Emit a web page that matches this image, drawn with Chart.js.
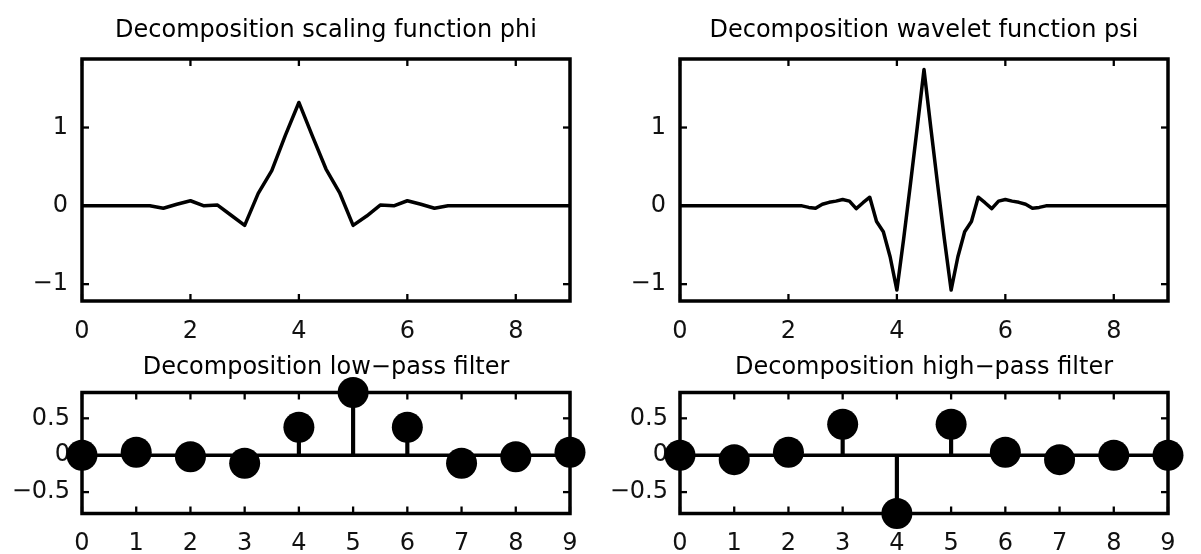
<!DOCTYPE html>
<html>
<head>
<meta charset="utf-8">
<title>Wavelet decomposition functions and filters</title>
<script src="https://cdn.jsdelivr.net/npm/chart.js@4/dist/chart.umd.min.js"></script>
<style>
  html, body { margin: 0; padding: 0; background: #fff; }
  body { width: 1201px; height: 554px; position: relative; overflow: hidden; }
  canvas { position: absolute; }
</style>
</head>
<body>
<canvas id="phiChart"  width="600" height="360" style="left:0px;top:0px"></canvas>
<canvas id="psiChart"  width="601" height="360" style="left:600px;top:0px"></canvas>
<canvas id="loChart"   width="600" height="214" style="left:0px;top:340px"></canvas>
<canvas id="hiChart"   width="601" height="214" style="left:600px;top:340px"></canvas>
<script>
// Scaling function phi, sampled on a quarter-unit grid
const phiX = [0, 1.25, 1.5, 1.75, 2, 2.25, 2.5, 2.75, 3, 3.25, 3.5, 3.75, 4,
              4.25, 4.5, 4.75, 5, 5.25, 5.5, 5.75, 6, 6.25, 6.5, 6.75, 9];
const phiY = [0, 0, -0.03, 0.02, 0.065, 0.0, 0.01, -0.12, -0.25, 0.16, 0.45, 0.90, 1.32,
              0.89, 0.47, 0.17, -0.25, -0.13, 0.01, 0.0, 0.065, 0.02, -0.03, 0, 0];

// Wavelet function psi, sampled on an eighth-unit grid
const psiX = [0, 2.25, 2.375, 2.5, 2.625, 2.75, 2.875, 3, 3.125, 3.25, 3.375, 3.5,
              3.625, 3.75, 3.875, 4, 4.125, 4.25, 4.375, 4.5, 4.625, 4.75, 4.875, 5,
              5.125, 5.25, 5.375, 5.5, 5.625, 5.75, 5.875, 6, 6.125, 6.25, 6.375, 6.5,
              6.625, 6.75, 9];
const psiY = [0, 0, -0.02, -0.03, 0.02, 0.045, 0.06, 0.08, 0.06, -0.035, 0.04, 0.11,
              -0.2, -0.33, -0.65, -1.075, -0.42, 0.28, 1.0, 1.74, 1.0, 0.28, -0.42, -1.075,
              -0.65, -0.33, -0.2, 0.11, 0.04, -0.035, 0.06, 0.08, 0.06, 0.045, 0.02, -0.03,
              -0.02, 0, 0];

// Decomposition filter coefficients
const tapIndex = [0, 1, 2, 3, 4, 5, 6, 7, 8, 9];
const lowPass  = [0, 0.04, -0.02, -0.11, 0.38, 0.85, 0.38, -0.11, -0.02, 0.04];
const highPass = [0, -0.06, 0.04, 0.42, -0.79, 0.42, 0.04, -0.06, 0, 0];

// Axis ranges and tick values
const funcXRange = [0, 9];
const funcYRange = [-1.215, 1.875];
const funcXTicks = [0, 2, 4, 6, 8];
const funcYTicks = [-1, 0, 1];
const filtXRange = [0, 9];
const filtYRange = [-0.79, 0.85];
const filtXTicks = [0, 1, 2, 3, 4, 5, 6, 7, 8, 9];
const filtYTicks = [-0.5, 0, 0.5];

const titles = {
  phi: 'Decomposition scaling function phi',
  psi: 'Decomposition wavelet function psi',
  lo: 'Decomposition low\u2212pass filter',
  hi: 'Decomposition high\u2212pass filter'
};

const FONT = '"DejaVu Sans", sans-serif';
Chart.defaults.font.family = FONT;
Chart.defaults.font.size = 24;
Chart.defaults.color = '#111';

const INK = '#000';
const LINE_W = 3.5;
const fmt = v => String(v).replace('-', '\u2212');

// Closed box with inward tick marks on all four sides
const boxPlugin = {
  id: 'matBox',
  beforeDatasetsDraw(chart) {
    const { ctx, chartArea: a, scales } = chart;
    const seg = (x1, y1, x2, y2) => { ctx.beginPath(); ctx.moveTo(x1, y1); ctx.lineTo(x2, y2); ctx.stroke(); };
    ctx.save();
    ctx.strokeStyle = INK;
    ctx.lineWidth = LINE_W;
    ctx.strokeRect(a.left, a.top, a.right - a.left, a.bottom - a.top);
    ctx.lineWidth = 2.3;
    const L = 7;
    scales.x.ticks.forEach(t => {
      const p = scales.x.getPixelForValue(t.value);
      seg(p, a.bottom, p, a.bottom - L);
      seg(p, a.top, p, a.top + L);
    });
    scales.y.ticks.forEach(t => {
      const p = scales.y.getPixelForValue(t.value);
      seg(a.left, p, a.left + L, p);
      seg(a.right, p, a.right - L, p);
    });
    ctx.restore();
  }
};

// Panel title centred over the plot box, set on a fixed baseline
const panelTitle = {
  id: 'panelTitle',
  afterDraw(chart, args, opts) {
    const { ctx, chartArea: a } = chart;
    ctx.save();
    ctx.font = '24px ' + FONT;
    ctx.fillStyle = INK;
    ctx.textAlign = 'center';
    ctx.textBaseline = 'alphabetic';
    ctx.fillText(opts.text, (a.left + a.right) / 2, opts.baseline);
    ctx.restore();
  }
};

function makeScales(xr, xt, yr, yt, o) {
  return {
    x: {
      type: 'linear', min: xr[0], max: xr[1], offset: false,
      grid: { display: false, drawTicks: false }, border: { display: false },
      afterBuildTicks: s => { s.ticks = xt.map(v => ({ value: v })); },
      afterFit: s => { s.height = o.xAxisH; },
      ticks: { padding: o.xPad, maxRotation: 0, autoSkip: false, callback: fmt }
    },
    y: {
      type: 'linear', min: yr[0], max: yr[1],
      grid: { display: false, drawTicks: false }, border: { display: false },
      afterBuildTicks: s => { s.ticks = yt.map(v => ({ value: v })); },
      afterFit: s => { s.width = o.yAxisW; },
      ticks: { padding: o.yPad, autoSkip: false, callback: fmt }
    }
  };
}

function commonOptions(title, o, scales) {
  return {
    responsive: false,
    animation: false,
    events: [],
    layout: { padding: { left: 0, right: o.padRight, top: o.padTop, bottom: 0 } },
    plugins: {
      legend: { display: false },
      tooltip: { enabled: false },
      title: { display: false },
      panelTitle: { text: title, baseline: o.titleBase }
    },
    scales
  };
}

function curveChart(id, title, xs, ys, o) {
  return new Chart(document.getElementById(id), {
    type: 'scatter',
    data: {
      datasets: [{
        type: 'line',
        data: xs.map((x, i) => ({ x, y: ys[i] })),
        borderColor: INK, borderWidth: LINE_W, pointRadius: 0,
        tension: 0, fill: false, borderJoinStyle: 'round'
      }]
    },
    options: commonOptions(title, o, makeScales(funcXRange, funcXTicks, funcYRange, funcYTicks, o)),
    plugins: [boxPlugin, panelTitle]
  });
}

function stemChart(id, title, xs, ys, o) {
  const pts = xs.map((x, i) => ({ x, y: ys[i] }));
  return new Chart(document.getElementById(id), {
    type: 'scatter',
    data: {
      datasets: [
        { // markers
          type: 'scatter', data: pts, order: 0, clip: false,
          pointRadius: 15.5, pointBackgroundColor: INK, pointBorderWidth: 0
        },
        { // stems
          type: 'bar', data: pts, order: 1,
          barThickness: LINE_W, backgroundColor: INK, borderWidth: 0
        },
        { // zero baseline
          type: 'line', order: 2,
          data: [{ x: filtXRange[0], y: 0 }, { x: filtXRange[1], y: 0 }],
          borderColor: INK, borderWidth: LINE_W, pointRadius: 0
        }
      ]
    },
    options: commonOptions(title, o, makeScales(filtXRange, filtXTicks, filtYRange, filtYTicks, o)),
    plugins: [boxPlugin, panelTitle]
  });
}

const topLeft  = { yAxisW: 82, padRight: 30, padTop: 59, xAxisH: 59, titleBase: 36.5, xPad: 16, yPad: 14 };
const topRight = Object.assign({}, topLeft, { yAxisW: 80, padRight: 33 });
const botLeft  = { yAxisW: 82, padRight: 30, padTop: 52.5, xAxisH: 40.5, titleBase: 33.5, xPad: 16, yPad: 12 };
const botRight = Object.assign({}, botLeft, { yAxisW: 80, padRight: 33 });

curveChart('phiChart', titles.phi, phiX, phiY, topLeft);
curveChart('psiChart', titles.psi, psiX, psiY, topRight);
stemChart('loChart', titles.lo, tapIndex, lowPass, botLeft);
stemChart('hiChart', titles.hi, tapIndex, highPass, botRight);
</script>
</body>
</html>
